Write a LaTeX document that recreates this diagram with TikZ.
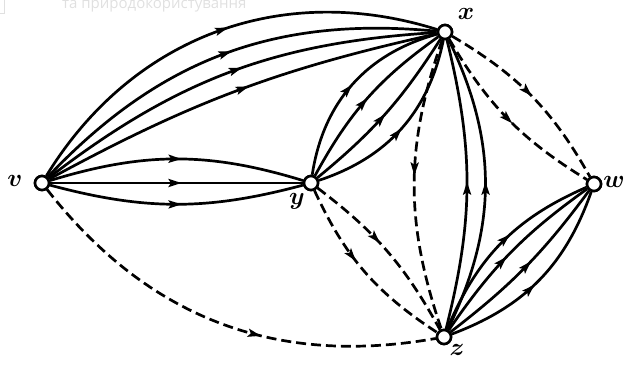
\documentclass[tikz,border=0pt]{standalone}
\usepackage{fontspec}
\newfontfamily\wmfont{Open Sans}
\usetikzlibrary{arrows.meta,decorations.markings}
\tikzset{
  vert/.style={circle,draw,fill=white,line width=2.6pt,minimum size=14pt,inner sep=0pt},
  lab/.style={font=\fontsize{27}{27}\selectfont\boldmath},
  arc/.style={line width=2.7pt,postaction={decorate},
    decoration={markings,mark=at position #1 with {\arrow{Stealth[length=13pt,width=8pt,inset=2.5pt]}}}},
  arc/.default=0.5,
  darc/.style={arc=#1,dash pattern=on 10pt off 5pt},
  darc/.default=0.5,
}
\begin{document}
\begin{tikzpicture}[x=1pt,y=1pt]
\useasboundingbox (0,0) rectangle (629,369);
% watermark fragment
\node[font=\wmfont\fontsize{15}{15}\selectfont,text=black!12,anchor=base west,inner sep=0pt] (wm) at (62,360) {та природокористування};
\draw[black!12,line width=1pt] (0,355) -- (4,355) -- (4,369);
% vertices
\coordinate (vc) at (42,186);
\coordinate (yc) at (311,186);
\coordinate (xc) at (445,337);
\coordinate (wc) at (594,185);
\coordinate (zc) at (444,32);
\node[vert] (v) at (vc) {};
\node[vert] (y) at (yc) {};
\node[vert] (x) at (xc) {};
\node[vert] (w) at (wc) {};
\node[vert] (z) at (zc) {};
% edges v->x
\draw[arc=0.53] (v) to[bend left=38] (x);
\draw[arc=0.52] (v) to[bend left=26] (x);
\draw[arc=0.53] (v) to[bend left=17] (x);
\draw[arc=0.53] (v) to[bend left=8] (x);
% v->y
\draw[arc=0.52] (v) to[bend left=17] (y);
\draw[arc=0.52] (v) -- (y);
\draw[arc=0.52] (v) to[bend right=15] (y);
% y->x
\draw[arc] (y) to[bend left=33] (x);
\draw[arc] (y) to[bend left=13] (x);
\draw[arc] (y) to[bend right=9] (x);
\draw[arc] (y) to[bend right=30] (x);
% z->x and x->z
\draw[arc=0.51] (z) to[bend right=14] (x);
\draw[arc=0.51] (z) to[bend right=26] (x);
\draw[darc=0.47] (x) to[bend right=19] (z);
% x->w dashed
\draw[darc=0.5] (x) to[bend left=15] (w);
\draw[darc=0.53] (x) to[bend right=14] (w);
% y->z dashed
\draw[darc=0.44] (y) to[bend left=12] (z);
\draw[darc=0.43] (y) to[bend right=16] (z);
% v->z dashed
\draw[darc=0.6] (v) to[bend right=31] (z);
% z->w
\draw[arc=0.56] (z) to[bend left=22] (w);
\draw[arc=0.47] (z) to[bend left=10] (w);
\draw[arc=0.54] (z) to[bend right=8] (w);
\draw[arc=0.47] (z) to[bend right=25] (w);
% redraw vertices on top
\node[vert] at (vc) {};
\node[vert] at (yc) {};
\node[vert] at (xc) {};
\node[vert] at (wc) {};
\node[vert] at (zc) {};
% labels
\node[lab] (lv) at (15,188) {$v$};
\node[lab] (ly) at (297,168) {$y$};
\node[lab] (lx) at (466,355) {$x$};
\node[lab] (lw) at (614,187) {$w$};
\node[lab] (lz) at (457,19) {$z$};
\end{tikzpicture}
\end{document}
